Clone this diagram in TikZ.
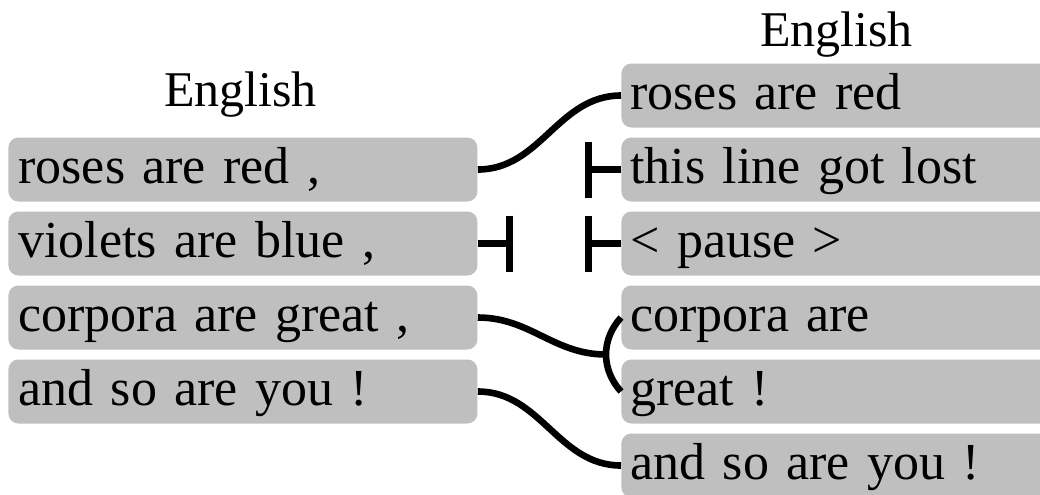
\documentclass[tikz,border=0pt]{standalone}
\usepackage{fontspec}
\setmainfont{Liberation Serif}
\usetikzlibrary{arrows.meta}
\definecolor{boxgray}{RGB}{191,191,191}
\tikzset{
  rowbox/.style={fill=boxgray, rounded corners=5pt, anchor=west,
    minimum height=32pt, inner ysep=0pt, text height=18.5pt, text depth=5pt,
    align=left, font=\fontsize{26pt}{30pt}\selectfont},
  leftbox/.style={rowbox, inner xsep=5pt, text width=224.5pt},
  rightbox/.style={rowbox, inner xsep=4.5pt, text width=205.5pt},
  header/.style={anchor=base, font=\fontsize{25pt}{30pt}\selectfont, inner sep=0pt},
  conn/.style={line width=3.3pt},
  blocked/.style={conn, {Bar[width=28pt]}-}
}
\begin{document}
\begin{tikzpicture}[x=0.5pt, y=-0.5pt]
\useasboundingbox (0,0) rectangle (1040,494);
\clip (0,0) rectangle (1040,494);
% headers
\node[header] (hl) at (240.5,106) {English};
\node[header] (hr) at (836.5,46) {English};
% left column
\node[leftbox] (l1) at (8,169.5) {roses are red ,};
\node[leftbox] (l2) at (8,243.5) {violets are blue ,};
\node[leftbox] (l3) at (8,317.5) {corpora are great ,};
\node[leftbox] (l4) at (8,391.5) {and so are you !};
% right column
\node[rightbox] (r1) at (621,95.5) {roses are red};
\node[rightbox] (r2) at (621,169.5) {this line got lost};
\node[rightbox] (r3) at (621,243.5) {< pause >};
\node[rightbox] (r4) at (621,317.5) {corpora are};
\node[rightbox] (r5) at (621,391.5) {great !};
\node[rightbox] (r6) at (621,465.5) {and so are you !};
% free ends of blocked links
\coordinate (b1) at (513,243.5);
\coordinate (b2) at (585,169.5);
\coordinate (b3) at (585,243.5);
% connectors
\draw[conn] (l1.east) to[out=0,in=180] (r1.west);
\draw[blocked] (b1) -- (l2.east);
\draw[blocked] (b2) -- (r2.west);
\draw[blocked] (b3) -- (r3.west);
\draw[conn] (r4.west) .. controls +(-20,22) and +(-20,-22) .. (r5.west) coordinate[pos=0.5] (brk);
\draw[conn] (l3.east) to[out=0,in=180] (brk);
\draw[conn] (l4.east) to[out=0,in=180] (r6.west);
\end{tikzpicture}
\end{document}
